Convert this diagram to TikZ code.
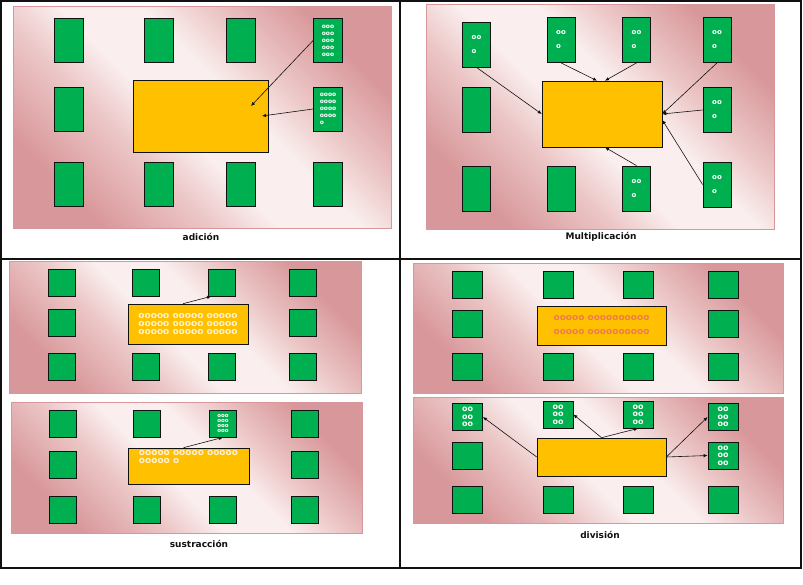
\documentclass[tikz,border=0pt]{standalone}
\usepackage{fontspec}
\setmainfont{DejaVu Sans}
\usetikzlibrary{arrows.meta,positioning,calc}
\definecolor{ink}{HTML}{111111}
\definecolor{tablegreen}{HTML}{00B050}
\definecolor{mesayellow}{HTML}{FFC000}
\definecolor{pinkdark}{HTML}{D8979A}
\definecolor{pinkmid}{HTML}{ECC6C6}
\definecolor{pinklight}{HTML}{FAEEEE}
\definecolor{beadcream}{HTML}{FFF1D6}
\definecolor{beadred}{HTML}{EE7A55}
\pgfdeclarehorizontalshading{tablecloth}{100bp}{color(0bp)=(pinkdark); color(25bp)=(pinkdark);
  color(38bp)=(pinkmid); color(46bp)=(pinklight); color(56bp)=(pinklight); color(64bp)=(pinkmid);
  color(75bp)=(pinkdark); color(100bp)=(pinkdark)}
\tikzset{
  panel/.style={draw=pinkdark, line width=0.5pt, shading=tablecloth, shading angle=45},
  tablebox/.style={rectangle, draw=ink, line width=0.8pt, fill=tablegreen, inner sep=0pt, align=left, text=white, font=\bfseries\fontsize{6}{7}\selectfont},
  mesa/.style={rectangle, draw=ink, line width=0.6pt, fill=mesayellow, inner sep=0pt, align=left, text=beadcream, font=\bfseries\fontsize{9}{8}\selectfont},
  mesabead/.style={align=left, text=beadcream, font=\bfseries\fontsize{9}{8}\selectfont},
  caption/.style={font=\bfseries\fontsize{9}{10}\selectfont, text=ink},
  arrow/.style={-{Latex[length=4pt,width=3.5pt]}, line width=0.6pt, draw=ink},
  frame/.style={draw=ink, line width=1.6pt}
}

\begin{document}
\begin{tikzpicture}[x=1pt, y=-1pt,
  tallbox/.style={tablebox, minimum width=29pt, minimum height=44pt},
  multbox/.style={tablebox, minimum width=28pt, minimum height=45pt, font=\bfseries\fontsize{7}{14}\selectfont},
  sqbox/.style={tablebox, minimum width=27pt, minimum height=27pt, font=\bfseries\fontsize{5.5}{5.3}\selectfont},
  divbox/.style={tablebox, minimum width=30pt, minimum height=27pt, font=\bfseries\fontsize{8}{7.5}\selectfont}
]
  \useasboundingbox (0,0) rectangle (803,584);
  \fill[white] (0,0) rectangle (803,584);

  % pink table areas
  \path[panel] (13,6) rectangle (391,228);
  \path[panel] (426,4) rectangle (774,229);
  \path[panel] (9,261) rectangle (361,393);
  \path[panel] (11,402) rectangle (362,533);
  \path[panel] (413,263) rectangle (783,393);
  \path[panel] (413,397) rectangle (783,523);

  % adicion
  \node[mesa, minimum width=135pt, minimum height=72pt] (mesa1) at (200.5,116) {};
  \foreach \n/\x/\y in {a11/68.5/40.5, a12/158.5/40.5, a13/241/40.5, a21/68.5/109,
                        a31/68.5/184, a32/158.5/184, a33/241/184, a34/328/184}
    \node[tallbox] (\n) at (\x,\y) {};
  \node[tallbox] (a14) at (328,40.5) {ooo\\ooo\\ooo\\ooo\\ooo};
  \node[tallbox] (a24) at (328,109) {oooo\\oooo\\oooo\\oooo\\o};
  \coordinate (a-in1) at (251,106);
  \coordinate (a-in2) at (262,116);
  \draw[arrow] (a14.west) -- (a-in1);
  \draw[arrow] (a24.west) -- (a-in2);
  \node[caption] (cap1) at (201,237) {adición};

  % multiplicacion
  \node[mesa, minimum width=120pt, minimum height=66pt] (mesa2) at (602,114) {};
  \foreach \n/\x/\y in {b21/476.5/110, b31/476.5/188.5, b32/561/188.5}
    \node[multbox] (\n) at (\x,\y) {};
  \foreach \n/\x/\y in {b11/476.5/44.5, b12/561/40, b13/636.5/40, b14/717/40,
                        b24/717/110, b33/636.5/188.5, b34/717/184.5}
    \node[multbox] (\n) at (\x,\y) {oo\\o};
  \draw[arrow] (b11.south) -- (mesa2.west);
  \draw[arrow] (b12.south) -- ($(mesa2.north)+(-5,0)$);
  \draw[arrow] (b13.south) -- ($(mesa2.north)+(3,0)$);
  \draw[arrow] (b14.south) -- (mesa2.east);
  \draw[arrow] (b24.west) -- (mesa2.east);
  \draw[arrow] (b34.west) -- ($(mesa2.east)+(0,6)$);
  \draw[arrow] (b33.north) -- ($(mesa2.south)+(3,0)$);
  \node[caption] (cap2) at (601,237) {Multiplicación};

  % sustraccion
  \node[mesa, minimum width=120pt, minimum height=40pt] (mesa3) at (188,324)
    {ooooo ooooo ooooo\\ooooo ooooo ooooo\\ooooo ooooo ooooo};
  \foreach \n/\x/\y in {c11/61.5/282.5, c12/146/282.5, c13/222/282.5, c14/303/282.5,
                        c21/61.5/322.5, c24/303/322.5,
                        c31/61.5/366.5, c32/146/366.5, c33/222/366.5, c34/303/366.5}
    \node[sqbox] (\n) at (\x,\y) {};
  \draw[arrow] ($(mesa3.north)+(-5,0)$) -- ($(c13.south west)+(3,0)$);

  \node[mesa, minimum width=121pt, minimum height=36pt,
    label={[mesabead, anchor=north, inner sep=3pt]north:{ooooo ooooo ooooo\\ooooo o}}] (mesa4) at (188.5,466) {};
  \foreach \n/\x/\y in {d11/62.5/423.5, d12/146.5/423.5, d14/304.5/423.5,
                        d21/62.5/464.5, d24/304.5/464.5,
                        d31/62.5/509.5, d32/146.5/509.5, d33/223/509.5, d34/304.5/509.5}
    \node[sqbox] (\n) at (\x,\y) {};
  \node[sqbox] (d13) at (223,423.5) {ooo\\ooo\\ooo\\ooo};
  \draw[arrow] ($(mesa4.north)+(-5,0)$) -- (d13.south);
  \node[caption] (cap3) at (199,544) {sustracción};

  % division
  \node[mesa, minimum width=129pt, minimum height=39pt, text=beadred,
    font=\bfseries\fontsize{9}{14}\selectfont] (mesa5) at (601.5,325.5)
    {ooooo oooooooooo\\ooooo oooooooooo};
  \foreach \n/\x/\y in {e11/467.5/285, e12/558/285, e13/638/285, e14/723/285,
                        e21/467.5/323.5, e24/723/323.5,
                        e31/467.5/367, e32/558/367, e33/638/367, e34/723/367}
    \node[divbox] (\n) at (\x,\y) {};

  \node[mesa, minimum width=129pt, minimum height=38pt] (mesa6) at (601.5,457) {};
  \foreach \n/\x/\y in {f11/467.5/417, f12/558/414.5, f13/638/414.5, f14/723/417, f24/723/455.5}
    \node[divbox, align=center] (\n) at (\x,\y) {oo\\oo\\oo};
  \foreach \n/\x/\y in {f21/467.5/455.5, f31/467.5/499.5, f32/558/499.5, f33/638/499.5, f34/723/499.5}
    \node[divbox] (\n) at (\x,\y) {};
  \draw[arrow] (mesa6.west) -- (f11.east);
  \draw[arrow] (mesa6.north) -- (f12.east);
  \draw[arrow] (mesa6.north) -- (f13.south);
  \draw[arrow] (mesa6.east) -- (f14.west);
  \draw[arrow] (mesa6.east) -- (f24.west);
  \node[caption] (cap4) at (600,535) {división};

  % frame
  \draw[frame] (1,1) rectangle (801,568);
  \draw[frame] (400,1) -- (400,568);
  \draw[frame] (1,259) -- (801,259);
\end{tikzpicture}
\end{document}
